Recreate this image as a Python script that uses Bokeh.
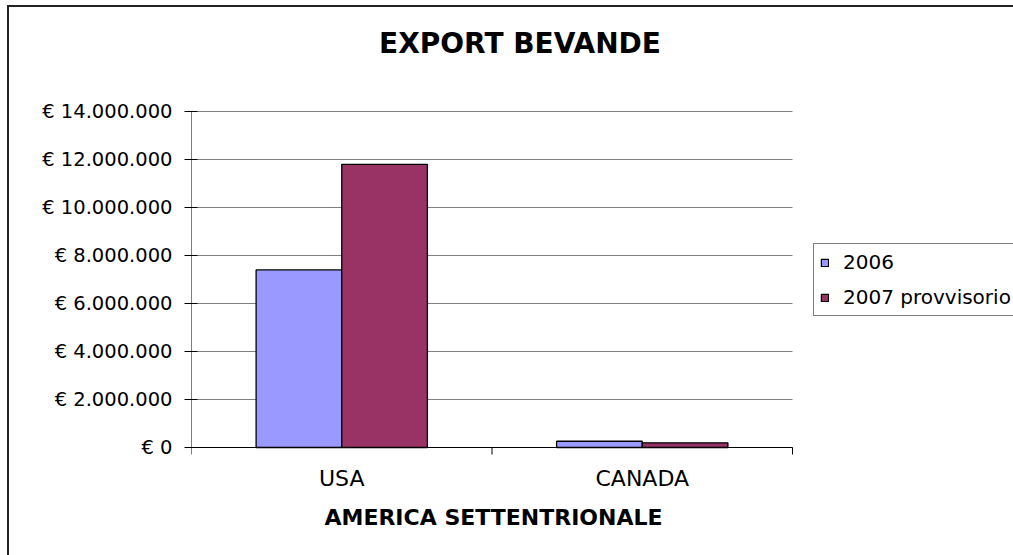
from bokeh.plotting import figure
from bokeh.models import (Range1d, FixedTicker, Legend, LegendItem,
                          ColumnDataSource, Label)
from bokeh.core.properties import value
from bokeh.embed import file_html
from bokeh.resources import INLINE

# ---- data ----
categories = ["USA", "CANADA"]
series_names = ["2006", "2007 provvisorio"]
values_2006 = [7400000, 260000]
values_2007 = [11800000, 195000]
y_ticks = [0, 2000000, 4000000, 6000000, 8000000, 10000000, 12000000, 14000000]
y_tick_labels = ["€ 0", "€ 2.000.000", "€ 4.000.000", "€ 6.000.000",
                 "€ 8.000.000", "€ 10.000.000", "€ 12.000.000", "€ 14.000.000"]
title_text = "EXPORT BEVANDE"
x_title = "AMERICA SETTENTRIONALE"

# ---- layout (pixels) ----
FONT = "DejaVu Sans"
W, H = 1013, 555
AX_LEFT, AX_RIGHT = 191, 792      # plotting area of the bars
AX_TOP, AX_BOTTOM = 111, 447
BAR_W = 0.285
OFFSET = 0.1425

n = len(categories)
y_max = y_ticks[-1]
y_per_px = y_max / (AX_BOTTOM - AX_TOP)
x_per_px = n / (AX_RIGHT - AX_LEFT)
y_lo = -(H - AX_BOTTOM) * y_per_px
y_hi = y_max + AX_TOP * y_per_px
x_hi = (W - AX_LEFT) * x_per_px

centers = [i + 0.5 for i in range(n)]
src = ColumnDataSource(dict(
    x1=[c - OFFSET for c in centers],
    x2=[c + OFFSET for c in centers],
    v1=values_2006,
    v2=values_2007,
))

p = figure(width=W, height=H, output_backend="svg", toolbar_location=None,
           x_range=Range1d(0, x_hi), y_range=Range1d(y_lo, y_hi),
           min_border_left=AX_LEFT, min_border_right=0, min_border_top=0, min_border_bottom=0)
p.title.visible = False
p.background_fill_color = "white"
p.border_fill_color = "white"
p.outline_line_color = None
p.xaxis.visible = False
p.xgrid.visible = False
p.ygrid.visible = False

# gridlines (only across the category area)
grid_y = y_ticks[1:]
p.segment(x0=[0] * len(grid_y), x1=[n] * len(grid_y), y0=grid_y, y1=grid_y,
          line_color="#808080", line_width=1)

# bars
r1 = p.vbar(x="x1", top="v1", width=BAR_W, source=src,
            fill_color="#9999FF", line_color="black", line_width=1.3)
r2 = p.vbar(x="x2", top="v2", width=BAR_W, source=src,
            fill_color="#993366", line_color="black", line_width=1.3)

# axis lines
p.segment(x0=[0], x1=[n], y0=[0], y1=[0], line_color="black", line_width=1)
p.segment(x0=[0], x1=[0], y0=[0], y1=[y_max], line_color="black", line_width=1)
bounds = list(range(n + 1))
p.segment(x0=bounds, x1=bounds, y0=[0] * len(bounds), y1=[-7 * y_per_px] * len(bounds),
          line_color="black", line_width=1)

# category labels
p.text(x=centers, y=[0] * n, text=categories, y_offset=31,
       text_font=value(FONT), text_font_size="22px", text_color="black",
       text_align="center", text_baseline="middle")

# y axis
yax = p.yaxis[0]
yax.ticker = FixedTicker(ticks=y_ticks, minor_ticks=[])
yax.major_label_overrides = {t: lab for t, lab in zip(y_ticks, y_tick_labels)}
yax.major_label_text_font = FONT
yax.major_label_text_font_size = "19.5px"
yax.major_label_text_color = "black"
yax.major_tick_in = 6
yax.major_tick_out = 7
yax.major_tick_line_color = "black"
yax.minor_tick_line_color = None
yax.major_label_standoff = 12
yax.axis_line_color = None

# titles (screen units, from the plotting area's bottom-left)
p.add_layout(Label(x=519.5 - AX_LEFT, y=H - 42.5, x_units="screen", y_units="screen",
                   text=title_text, text_font=FONT, text_font_style="bold",
                   text_font_size="28px", text_color="black",
                   text_align="center", text_baseline="middle"))
p.add_layout(Label(x=493 - AX_LEFT, y=H - 517, x_units="screen", y_units="screen",
                   text=x_title, text_font=FONT, text_font_style="bold",
                   text_font_size="22px", text_color="black",
                   text_align="center", text_baseline="middle"))

# legend
legend = Legend(items=[LegendItem(label=series_names[0], renderers=[r1]),
                       LegendItem(label=series_names[1], renderers=[r2])],
                location=(813 - AX_LEFT, H - 316))
legend.border_line_color = "black"
legend.border_line_width = 1
legend.background_fill_color = "white"
legend.background_fill_alpha = 1
legend.label_text_font = FONT
legend.label_text_font_size = "20px"
legend.label_text_color = "black"
legend.glyph_width = 9
legend.glyph_height = 9
legend.label_standoff = 14
legend.label_height = 21
legend.padding = 6
legend.spacing = 11
legend.margin = 0
p.add_layout(legend, "center")

html = file_html(p, INLINE)
css = ("<style>html,body{margin:0;padding:0;overflow:hidden;}"
       "body::before{content:'';position:fixed;left:7px;top:5px;right:0;bottom:0;"
       "border-left:2px solid #222;border-top:2px solid #222;pointer-events:none;z-index:10;}</style>")
html = html.replace("</head>", css + "</head>", 1)
open("out.html", "w").write(html)
